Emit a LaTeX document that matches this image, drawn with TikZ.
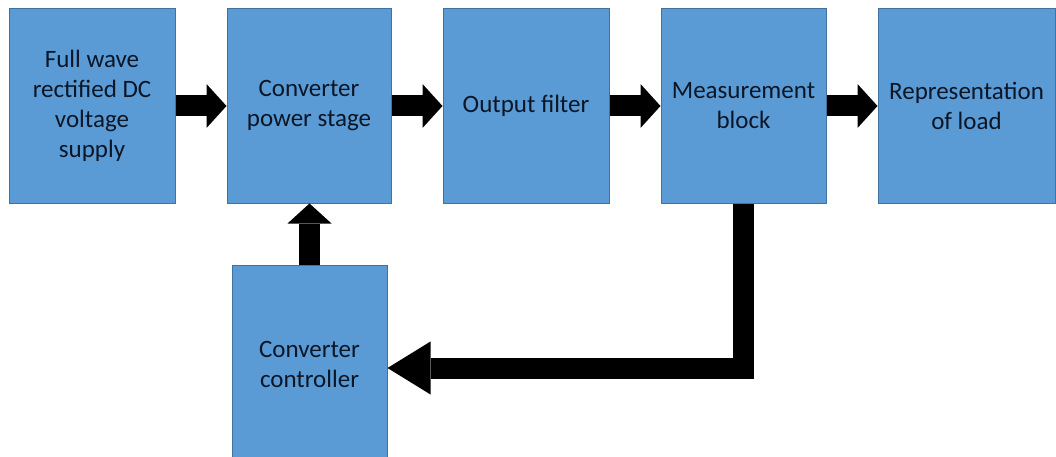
\documentclass[tikz,border=0pt]{standalone}
\usepackage{fontspec}
\setmainfont{Carlito}
\usetikzlibrary{arrows.meta}
\definecolor{boxfill}{HTML}{5B9BD5}
\definecolor{boxline}{HTML}{41719C}
\definecolor{txt}{HTML}{0B1626}
\tikzset{
  blockbox/.style={draw=boxline, fill=boxfill, line width=1pt, inner sep=0pt,
    align=center, text=txt, font=\fontsize{25}{30}\selectfont},
  flow/.style={draw=black, line width=21pt,
    -{Triangle[width=44pt,length=20pt,line width=0pt]}},
  bigflow/.style={draw=black, line width=21pt, line join=miter,
    -{Triangle[width=53pt,length=43pt,line width=0pt]}}
}
\begin{document}
\begin{tikzpicture}[x=1pt,y=-1pt]
\useasboundingbox (0,0) rectangle (1056,457);
\begin{scope}
\clip (0,0) rectangle (1056,457);
\node[blockbox, minimum width=166pt, minimum height=194pt] (b1) at (92,106) {Full wave\\rectified DC\\voltage\\supply};
\node[blockbox, minimum width=164pt, minimum height=194pt] (b2) at (309,106) {Converter\\power stage};
\node[blockbox, minimum width=166pt, minimum height=194pt] (b3) at (526,106) {Output filter};
\node[blockbox, minimum width=165pt, minimum height=194pt] (b4) at (743.5,106) {Measurement\\block};
\node[blockbox, minimum width=177pt, minimum height=194pt] (b5) at (966.5,106) {Representation\\of load};
\node[blockbox, minimum width=155pt, minimum height=206pt] (ctrl) at (309.5,368) {};
\node[font=\fontsize{25}{30}\selectfont, text=txt, align=center] (ctrltext) at (309.5,364) {Converter\\controller};
\end{scope}
\draw[flow] (b1.east) -- (b2.west);
\draw[flow] (b2.east) -- (b3.west);
\draw[flow] (b3.east) -- (b4.west);
\draw[flow] (b4.east) -- (b5.west);
\draw[flow] (ctrl.north) -- (ctrl.north |- b2.south);
\draw[bigflow] (b4.south) |- (ctrl.east);
\end{tikzpicture}
\end{document}
